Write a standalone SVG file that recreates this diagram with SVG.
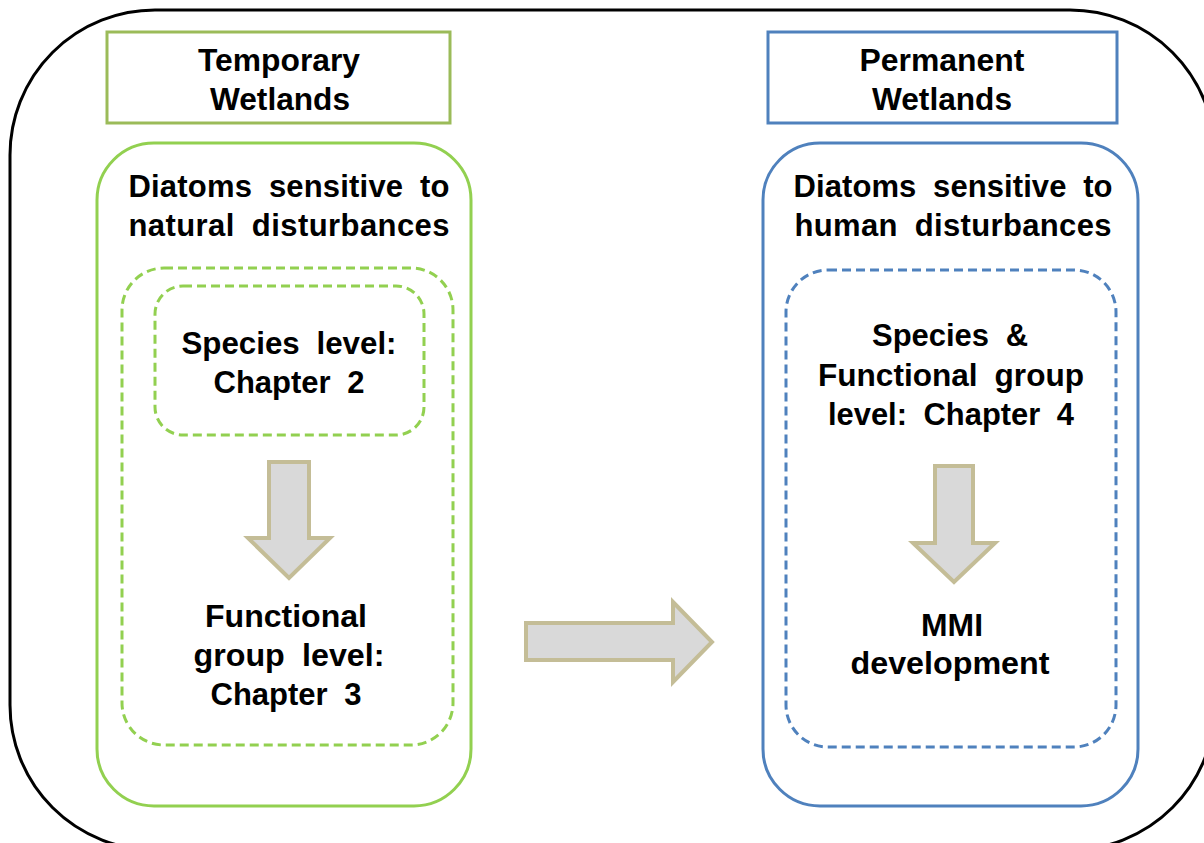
<svg xmlns="http://www.w3.org/2000/svg" width="1204" height="843" viewBox="0 0 1204 843">
<style>
.t{font-family:"Liberation Sans",Arial,sans-serif;font-weight:bold;font-size:31px;fill:#000;text-anchor:middle;word-spacing:8px}
.g{fill:none;stroke:#9BBB59;stroke-width:3}
.gs{fill:none;stroke:#92D050;stroke-width:3}
.gd{fill:none;stroke:#92D050;stroke-width:3;stroke-dasharray:9 5}
.b{fill:none;stroke:#4F81BD;stroke-width:3}
.bd{fill:none;stroke:#4F81BD;stroke-width:3;stroke-dasharray:9 5}
.arr{fill:#D9D9D9;stroke:#C4BD97;stroke-width:4;stroke-linejoin:miter}
</style>
<rect width="1204" height="843" fill="#fff"/>
<g id="frame">
<rect x="10" y="10" width="1205" height="840" rx="145" ry="145" fill="none" stroke="#000" stroke-width="3"/>
</g>
<g id="temporary-title">
<rect class="g" x="107" y="32" width="343" height="91"/>
<text class="t" x="279" y="71" textLength="162" lengthAdjust="spacingAndGlyphs">Temporary</text>
<text class="t" x="280" y="110" textLength="140" lengthAdjust="spacingAndGlyphs">Wetlands</text>
</g>
<g id="permanent-title">
<rect class="b" x="768" y="32" width="349" height="91"/>
<text class="t" x="942" y="71" textLength="165" lengthAdjust="spacingAndGlyphs">Permanent</text>
<text class="t" x="942" y="110" textLength="140" lengthAdjust="spacingAndGlyphs">Wetlands</text>
</g>
<g id="natural-box">
<rect class="gs" x="97" y="143" width="374" height="663" rx="57" ry="57"/>
<text class="t" x="289" y="197" textLength="321" lengthAdjust="spacing">Diatoms sensitive to</text>
<text class="t" x="289" y="236" textLength="321" lengthAdjust="spacing">natural disturbances</text>
</g>
<g id="natural-levels">
<rect class="gd" x="122" y="268" width="331" height="477" rx="42" ry="42"/>
</g>
<g id="species-level">
<rect class="gd" x="155" y="286" width="269" height="149" rx="28" ry="28"/>
<text class="t" x="289" y="354" textLength="215" lengthAdjust="spacingAndGlyphs">Species level:</text>
<text class="t" x="289" y="393" textLength="151" lengthAdjust="spacingAndGlyphs">Chapter 2</text>
</g>
<g id="functional-level">
<text class="t" x="286" y="627" textLength="162" lengthAdjust="spacingAndGlyphs">Functional</text>
<text class="t" x="289" y="666" textLength="191" lengthAdjust="spacingAndGlyphs">group level:</text>
<text class="t" x="286" y="705" textLength="151" lengthAdjust="spacingAndGlyphs">Chapter 3</text>
</g>
<g id="human-box">
<rect class="b" x="763" y="143" width="375" height="663" rx="57" ry="57"/>
<text class="t" x="953" y="197" textLength="319" lengthAdjust="spacing">Diatoms sensitive to</text>
<text class="t" x="953" y="236" textLength="317" lengthAdjust="spacing">human disturbances</text>
</g>
<g id="human-levels">
<rect class="bd" x="786" y="270" width="330" height="477" rx="42" ry="42"/>
</g>
<g id="species-functional-level">
<text class="t" x="950" y="346" textLength="156" lengthAdjust="spacingAndGlyphs">Species &amp;</text>
<text class="t" x="951" y="386" textLength="266" lengthAdjust="spacingAndGlyphs">Functional group</text>
<text class="t" x="951" y="425" textLength="246" lengthAdjust="spacingAndGlyphs">level: Chapter 4</text>
</g>
<g id="mmi">
<text class="t" x="952" y="636" textLength="62" lengthAdjust="spacingAndGlyphs">MMI</text>
<text class="t" x="950" y="674" textLength="199" lengthAdjust="spacingAndGlyphs">development</text>
</g>
<g id="connectors">
<polygon class="arr" points="269,462 309,462 309,538 330,538 289,578 248,538 269,538"/>
<polygon class="arr" points="935,466 973,466 973,543 995,543 954,582 913,543 935,543"/>
<polygon class="arr" points="526,623 673,623 673,602 712,642 673,682 673,660 526,660"/>
</g>
</svg>
